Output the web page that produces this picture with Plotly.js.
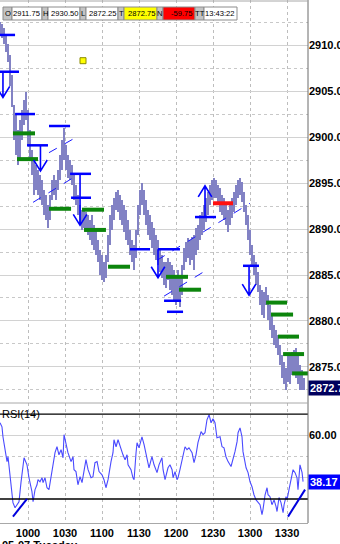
<!DOCTYPE html>
<html><head><meta charset="utf-8">
<script src="https://cdn.plot.ly/plotly-3.0.1.min.js"></script>
<style>html,body{margin:0;padding:0;background:#fff}#chart{width:340px;height:544px}</style>
</head><body><div id="chart"></div>
<script>
// ---- price bars (minutes of day, high, low) ----
const time = [577.3,578.9,580.5,582.2,583.8,585.4,587.0,588.7,590.3,591.9,593.5,595.1,596.8,598.4,600.0,601.6,603.2,604.9,606.5,608.1,609.7,611.4,613.0,614.6,616.2,617.8,619.5,621.1,622.7,624.3,625.9,627.6,629.2,630.8,632.4,634.1,635.7,637.3,638.9,640.5,642.2,643.8,645.4,647.0,648.7,650.3,651.9,653.5,655.1,656.8,658.4,660.0,661.6,663.2,664.9,666.5,668.1,669.7,671.4,673.0,674.6,676.2,677.8,679.5,681.1,682.7,684.3,686.0,687.6,689.2,690.8,692.4,694.1,695.7,697.3,698.9,700.5,702.2,703.8,705.4,707.0,708.7,710.3,711.9,713.5,715.1,716.8,718.4,720.0,721.6,723.2,724.9,726.5,728.1,729.7,731.4,733.0,734.6,736.2,737.8,739.5,741.1,742.7,744.3,745.9,747.6,749.2,750.8,752.4,754.1,755.7,757.3,758.9,760.5,762.2,763.8,765.4,767.0,768.6,770.3,771.9,773.5,775.1,776.8,778.4,780.0,781.6,783.2,784.9,786.5,788.1,789.7,791.4,793.0,794.6,796.2,797.8,799.5,801.1,802.7,804.3,805.9,807.6,809.2,810.8,812.4,814.1,815.7,817.3,818.9,820.5,822.2,823.8];
const high = [2912.5,2912.3,2911.9,2911.0,2910.1,2908.9,2906.7,2903.5,2902.4,2900.8,2901.9,2902.9,2904.0,2904.9,2902.9,2900.8,2898.6,2897.5,2897.0,2896.4,2895.9,2895.3,2894.2,2893.7,2892.6,2893.7,2895.3,2895.9,2895.3,2896.4,2898.0,2899.7,2901.0,2899.1,2898.0,2897.5,2897.0,2895.9,2894.8,2893.7,2892.6,2892.1,2892.1,2891.9,2891.5,2891.0,2891.5,2890.4,2889.9,2888.8,2887.7,2887.2,2886.4,2887.2,2889.4,2891.5,2892.6,2893.4,2894.0,2894.2,2893.7,2893.2,2892.6,2892.1,2891.0,2889.9,2888.8,2888.3,2889.9,2892.6,2894.2,2895.0,2894.2,2893.2,2892.1,2891.5,2890.8,2890.1,2889.4,2888.8,2887.7,2887.2,2886.4,2886.4,2886.9,2886.4,2886.1,2885.5,2885.0,2885.5,2884.7,2886.1,2887.9,2888.6,2889.0,2888.8,2889.1,2889.4,2890.1,2890.4,2891.5,2891.9,2892.6,2893.4,2894.0,2894.8,2895.3,2895.5,2895.3,2894.8,2894.5,2893.7,2893.4,2892.6,2892.1,2892.6,2893.4,2894.0,2894.8,2895.3,2895.5,2895.1,2894.0,2892.6,2891.5,2889.9,2888.3,2887.2,2886.4,2885.3,2883.9,2883.4,2883.2,2883.7,2882.8,2881.7,2880.7,2879.6,2879.0,2878.5,2877.4,2876.3,2875.5,2874.9,2876.3,2876.3,2876.6,2876.8,2877.1,2876.3,2875.2,2874.7,2873.8];
const low = [2911.1,2910.8,2910.1,2909.2,2908.2,2905.6,2903.3,2899.7,2898.0,2897.0,2897.5,2899.7,2901.3,2901.9,2899.1,2897.5,2895.9,2893.7,2894.2,2893.7,2893.2,2892.6,2891.5,2891.0,2890.1,2891.0,2893.2,2893.7,2893.2,2894.2,2895.3,2896.4,2897.5,2896.4,2895.5,2895.3,2894.8,2893.2,2892.6,2891.5,2890.4,2889.9,2890.1,2889.7,2889.4,2888.8,2888.3,2887.7,2887.2,2886.4,2885.0,2884.5,2884.2,2884.7,2886.4,2888.3,2889.9,2891.0,2892.1,2891.9,2891.0,2890.4,2889.7,2888.8,2888.3,2887.2,2886.4,2885.5,2886.9,2889.4,2891.5,2892.6,2891.5,2890.4,2889.4,2888.8,2887.9,2887.2,2886.6,2886.1,2885.3,2884.7,2883.9,2883.6,2884.5,2883.4,2882.8,2882.3,2881.7,2882.3,2881.5,2882.8,2885.5,2886.4,2886.9,2886.1,2886.6,2885.5,2887.2,2887.7,2888.8,2889.4,2889.9,2890.8,2891.5,2892.6,2893.2,2893.4,2893.4,2892.6,2891.9,2891.5,2891.0,2890.4,2889.7,2890.4,2891.2,2891.9,2892.6,2893.4,2893.7,2892.9,2891.9,2890.4,2888.8,2887.2,2886.1,2885.0,2883.9,2883.2,2881.7,2880.7,2880.3,2881.7,2880.1,2879.0,2878.1,2877.4,2877.1,2876.3,2875.2,2873.8,2873.1,2872.5,2873.4,2873.1,2874.1,2874.5,2873.8,2873.1,2872.5,2872.5,2872.5];
const lastPrice = 2872.75;

// ---- RSI(14) ----
const rsiTime = [577.3,578.9,579.7,581.4,583.0,583.8,585.4,587.0,587.8,589.5,591.1,592.7,594.3,595.9,596.8,599.2,600.8,603.2,604.1,605.7,607.3,608.1,609.7,611.4,612.2,613.8,615.4,617.0,619.5,621.9,623.5,625.1,626.8,628.4,629.2,630.8,632.4,634.9,636.5,637.3,638.9,640.5,642.2,643.8,645.4,647.0,648.7,651.1,652.7,654.3,656.0,657.6,660.0,661.6,663.2,664.9,667.3,668.9,669.7,671.4,673.0,675.4,677.0,678.7,680.3,681.1,683.5,685.1,686.0,687.6,688.4,690.0,692.4,694.1,696.5,698.1,700.5,702.2,704.6,706.2,708.6,709.5,711.1,712.7,713.5,715.1,716.8,717.6,719.2,720.8,721.6,723.2,725.7,727.3,728.9,730.5,733.0,734.6,736.2,737.8,740.3,741.9,743.5,745.1,746.8,748.4,750.0,751.6,753.2,755.7,757.3,758.9,760.5,762.2,764.6,766.2,767.8,769.5,770.3,771.9,773.5,774.3,776.8,778.4,780.0,781.6,783.2,784.9,786.5,788.1,789.7,790.5,792.2,793.8,794.6,796.2,797.8,799.5,801.1,801.9,803.5,805.1,806.8,807.6,809.2,810.0,811.6,813.2,814.9,816.5,818.1,818.9,820.5,822.2,823.0];
const rsiValue = [65.9,64.0,59.3,53.2,47.6,49.9,42.4,34.4,28.3,25.9,27.3,28.7,37.7,46.1,49.4,46.1,40.0,33.5,28.7,34.4,36.7,39.1,38.1,40.0,37.7,40.0,35.3,34.4,43.8,51.8,54.6,50.8,53.2,49.4,60.3,56.5,51.8,47.6,49.9,43.8,42.9,36.7,40.5,37.7,43.8,48.5,43.8,40.0,40.5,47.1,47.6,42.9,41.4,39.1,35.3,39.1,47.6,51.8,57.9,54.6,57.9,53.2,50.8,48.5,50.8,46.1,43.8,40.0,39.1,51.8,56.5,54.1,59.3,55.6,49.9,44.7,49.9,46.1,42.4,46.1,49.4,43.8,39.1,42.9,44.7,46.1,43.8,40.0,42.9,39.1,40.0,43.8,50.8,54.6,53.2,54.1,51.8,47.1,50.8,56.5,61.7,60.3,61.2,67.3,69.7,65.9,67.8,65.9,58.8,59.3,54.6,54.1,49.9,47.6,45.3,48.5,52.3,57.0,61.2,63.5,59.3,52.3,44.7,42.4,38.1,35.8,32.0,29.6,28.3,27.3,22.6,25.0,32.0,35.3,32.0,31.1,27.3,29.6,26.4,24.1,30.7,28.3,23.6,27.3,31.1,29.6,34.4,39.1,43.8,42.4,40.0,34.4,46.1,42.4,38.2];
const rsiLast = 38.17;
const rsiLevels = [70, 30];

// ---- axis ticks ----
const timeTicks = [600, 630, 660, 690, 720, 750, 780, 810];
const timeTickText = ['1000','1030','1100','1130','1200','1230','1300','1330'];
const dateLabel = '05-07 Tuesday';

// ---- drawn levels / marks ----
const blueStart = [577.3,577.3,589.5,617.0,599.2,634.1,634.9,682.7,705.4,710.3,712.7,735.4,774.3];
const blueEnd   = [589.5,592.7,605.7,634.1,616.2,651.1,651.1,698.9,723.2,724.1,725.7,752.4,787.3];
const bluePrice = [2911.1,2907.1,2902.5,2901.2,2899.1,2896.0,2893.4,2887.8,2887.8,2882.2,2881.0,2891.3,2886.0];

const greenStart = [587.8,591.1,617.0,643.8,645.4,664.9,711.9,722.4,793.0,797.0,802.7,806.8,814.1];
const greenEnd   = [605.7,608.1,634.9,661.6,663.2,682.7,729.7,740.3,810.0,814.9,819.7,823.8,828.6];
const greenPrice = [2900.4,2897.6,2892.2,2892.1,2889.9,2885.9,2884.8,2883.4,2882.0,2880.7,2878.3,2876.4,2874.3];

const redStart = [750.0];
const redEnd = [766.2];
const redPrice = [2892.8];

const arrowTime = [579.7, 610.1, 642.2, 705.4, 743.5, 779.2];
const arrowFrom = [2907.1, 2899.1, 2896.0, 2887.8, 2891.4, 2886.0];
const arrowTo   = [2904.3, 2896.3, 2890.4, 2884.7, 2894.7, 2882.8];

const chanT0 = [604.1, 617.0, 704.6, 710.3];
const chanP0 = [2892.9, 2898.3, 2886.6, 2882.7];
const chanT1 = [635.7, 638.1, 780.0, 741.9];
const chanP1 = [2895.5, 2899.9, 2892.8, 2885.3];

const rsiLineT0 = [587.8, 810.8];
const rsiLineV0 = [21.7, 21.7];
const rsiLineT1 = [599.2, 824.6];
const rsiLineV1 = [30.1, 34.4];

const markerTime = [644.6];
const markerPrice = [2908.3];

// ---- header ----
const hdrLabels = ['O','H','L','T','N','TT'];
const hdrValues = ['2911.75','2930.50','2872.25','2872.75','-59.75','13:43:22'];

// ===================== build =====================
const PW = 308, PH = 523;
const px = v => v / PW;
const py = v => 1 - v / PH;

const traces = [
  {type:'bar', x: time, base: low, y: high.map((h,i)=>h-low[i]), width: 1.3,
   marker:{color:'#8282c4', line:{width:0}}, xaxis:'x', yaxis:'y', hoverinfo:'skip'},
  {type:'scatter', mode:'markers', x: markerTime, y: markerPrice, xaxis:'x', yaxis:'y',
   marker:{symbol:'square', size:6, color:'#ffff00', line:{color:'#8a8a00', width:1}}, hoverinfo:'skip'},
  {type:'scatter', mode:'lines', x: rsiTime, y: rsiValue, xaxis:'x', yaxis:'y2',
   line:{color:'#4a4aff', width:1.1}, hoverinfo:'skip'}
];

const shapes = [];
const seg = (t0,t1,p0,p1,color,w,yref,dash) => shapes.push({type:'line', xref:'x', yref:yref,
  x0:t0, x1:t1, y0:p0, y1:p1, line:{color:color, width:w, dash:dash||'solid'}});

chanT0.forEach((t,i)=>seg(t, chanT1[i], chanP0[i], chanP1[i], '#1a1aff', 1, 'y', 'dash'));
blueStart.forEach((t,i)=>seg(t, blueEnd[i], bluePrice[i], bluePrice[i], '#0000ff', 2.5, 'y'));
greenStart.forEach((t,i)=>seg(t, greenEnd[i], greenPrice[i], greenPrice[i], '#0c850c', 4, 'y'));
redStart.forEach((t,i)=>seg(t, redEnd[i], redPrice[i], redPrice[i], '#ff1010', 4, 'y'));
const hw = 5.5, hl = 1.2;
arrowTime.forEach((t,i)=>{
  const a = arrowFrom[i], b = arrowTo[i], d = b < a ? 1 : -1;
  shapes.push({type:'path', xref:'x', yref:'y', line:{color:'#0000ff', width:1.6},
    path:`M${t},${a} L${t},${b} M${t-hw},${b+d*hl} L${t},${b} L${t+hw},${b+d*hl}`});
});
rsiLevels.forEach(v=>shapes.push({type:'line', xref:'paper', yref:'y2', x0:0, x1:1, y0:v, y1:v,
  line:{color:'#000000', width:1.3}}));
rsiLineT0.forEach((t,i)=>seg(t, rsiLineT1[i], rsiLineV0[i], rsiLineV1[i], '#0000dd', 2, 'y2'));

// frame lines
shapes.push({type:'line', xref:'paper', yref:'paper', x0:1, x1:1, y0:0, y1:1, line:{color:'#6a6a6a', width:1}});
shapes.push({type:'line', xref:'paper', yref:'paper', x0:0, x1:1, y0:py(1), y1:py(1), line:{color:'#a8a8a8', width:1}});
shapes.push({type:'line', xref:'paper', yref:'paper', x0:0, x1:1, y0:py(403), y1:py(403), line:{color:'#a8a8a8', width:1}});

// header boxes
const labelBox = [[3,12],[42,48],[80,86],[118,124],[157,163],[195,204]];
const valueBox = [[12,42],[48,80],[86,118],[124,157],[163,195],[204,237]];
const valueFill = ['#ffffff','#ffffff','#ffffff','#ffff00','#ff0000','#ffffff'];
const annotations = [];
const hy0 = 7, hy1 = 20;
const hfont = {family:'Liberation Sans, Arial', size:7.6, color:'#000'};
const lfont = {family:'Liberation Sans, Arial', size:7.6, color:'#000'};
hdrLabels.forEach((lab,i)=>{
  const [a,b] = labelBox[i], [c,d] = valueBox[i];
  shapes.push({type:'rect', xref:'paper', yref:'paper', x0:px(a), x1:px(b), y0:py(hy1), y1:py(hy0),
    fillcolor:'#c4c4c4', line:{color:'#8c8c8c', width:1}});
  shapes.push({type:'rect', xref:'paper', yref:'paper', x0:px(c), x1:px(d), y0:py(hy1), y1:py(hy0),
    fillcolor:valueFill[i], line:{color:'#8c8c8c', width:1}});
  annotations.push({xref:'paper', yref:'paper', x:px((a+b)/2), y:py((hy0+hy1)/2), text:lab,
    showarrow:false, xanchor:'center', yanchor:'middle', font:lfont, borderpad:0});
  annotations.push({xref:'paper', yref:'paper', x:px(d-1), y:py((hy0+hy1)/2), text:hdrValues[i],
    showarrow:false, xanchor:'right', yanchor:'middle', font:hfont, borderpad:0});
});

const boldFont = {family:'Liberation Sans, Arial', size:11, weight:'bold', color:'#000'};
annotations.push({xref:'paper', yref:'y', x:1, y:lastPrice, text:lastPrice.toFixed(2), showarrow:false,
  xanchor:'left', yanchor:'middle', bgcolor:'#00005e', borderpad:1, width:40, align:'left',
  font:{family:'Liberation Sans, Arial', size:11, weight:'bold', color:'#ffffff'}});
annotations.push({xref:'paper', yref:'y2', x:1, y:rsiLast, text:rsiLast.toFixed(2), showarrow:false,
  xanchor:'left', yanchor:'middle', bgcolor:'#0000ff', borderpad:1, width:34, align:'left',
  font:{family:'Liberation Sans, Arial', size:11, weight:'bold', color:'#ffffff'}});
annotations.push({xref:'paper', yref:'paper', x:0, y:py(414), text:'RSI(14)', showarrow:false,
  xanchor:'left', yanchor:'middle', font:{family:'Liberation Sans, Arial', size:11, color:'#000'}});
annotations.push({xref:'paper', yref:'paper', x:0, y:py(537), text:dateLabel, showarrow:false,
  xanchor:'left', yanchor:'top', font:boldFont});

const layout = {
  width:340, height:544, margin:{l:0, r:32, t:0, b:21},
  paper_bgcolor:'#ffffff', plot_bgcolor:'#ffffff', showlegend:false, bargap:0,
  xaxis:{domain:[0,1], range:[577.3, 827], anchor:'y2', tickmode:'array', tickvals:timeTicks,
    ticktext:timeTickText, tickfont:boldFont, ticks:'', showgrid:true, gridcolor:'#bdbdbd',
    griddash:'dot', gridwidth:1, zeroline:false, showline:true, linecolor:'#a8a8a8', fixedrange:true},
  yaxis:{domain:[py(401), 1], range:[2871.3, 2914.9], side:'right', tick0:2875, dtick:5,
    tickformat:'.1f', tickfont:boldFont, ticks:'', showgrid:true, gridcolor:'#d2d2d2', gridwidth:1,
    minor:{dtick:2.5, tick0:2872.5, showgrid:true, gridcolor:'#c8c8c8', griddash:'dot'},
    zeroline:false, showline:false, fixedrange:true},
  yaxis2:{domain:[0, py(403)], range:[18.7, 75.2], side:'right', tickmode:'array', tickvals:[40,60],
    ticktext:['','60.00'], tickfont:boldFont, ticks:'', showgrid:true, gridcolor:'#d2d2d2',
    minor:{tickvals:[50], showgrid:true, gridcolor:'#c8c8c8', griddash:'dot'},
    zeroline:false, fixedrange:true},
  shapes: shapes, annotations: annotations
};

Plotly.newPlot('chart', traces, layout, {staticPlot:true, displayModeBar:false});
</script></body></html>
